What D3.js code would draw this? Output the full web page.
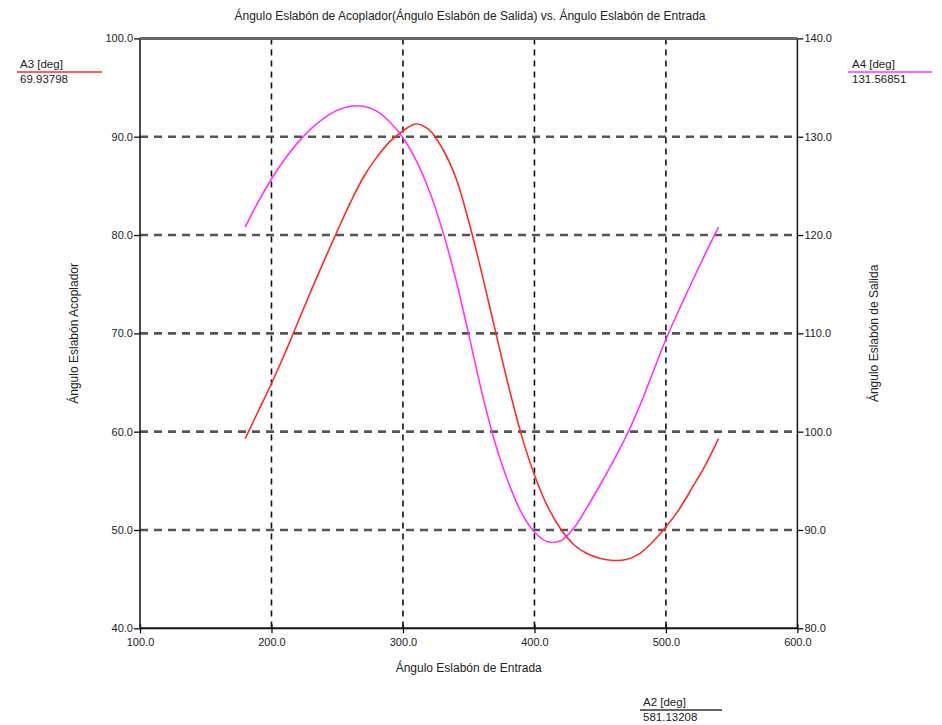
<!DOCTYPE html>
<html><head><meta charset="utf-8">
<script src="https://cdn.jsdelivr.net/npm/d3@7"></script>
<style>
body{margin:0;background:#fff;}
svg text{font-family:"Liberation Sans",Arial,sans-serif;fill:#222;}
</style></head>
<body>
<svg id="c" width="942" height="725"></svg>
<script>
const inputAngle = [180,190,200,210,220,230,240,250,260,270,280,290,300,310,320,330,340,350,360,370,380,390,400,410,420,430,440,450,460,470,480,490,500,510,520,530,540];
const a3Coupler = [59.3,62.1,64.9,67.9,71.1,74.3,77.4,80.4,83.3,85.9,87.9,89.5,90.6,91.3,90.7,88.8,85.9,81.4,76.1,70.4,64.8,59.7,55.6,52.4,50.1,48.5,47.6,47.1,46.9,47.0,47.6,48.8,50.3,52.1,54.3,56.6,59.3];
const a4Output = [120.8,123.4,125.7,127.7,129.4,130.8,131.9,132.7,133.1,133.1,132.6,131.5,129.9,127.6,124.5,120.5,115.6,109.9,104.0,98.9,94.9,91.8,89.8,88.8,88.9,90.2,92.3,94.6,97.0,99.6,102.6,106.0,109.4,112.4,115.3,118.1,120.8];
const xTicks = [100,200,300,400,500,600];
const yLeftTicks = [40,50,60,70,80,90,100];
const yRightTicks = [80,90,100,110,120,130,140];
const titleText = "Ángulo Eslabón de Acoplador(Ángulo Eslabón de Salida) vs. Ángulo Eslabón de Entrada";
const xLabel = "Ángulo Eslabón de Entrada";
const yLeftLabel = "Ángulo Eslabón Acoplador";
const yRightLabel = "Ángulo Eslabón de Salida";
const legendA3 = ["A3 [deg]","69.93798"];
const legendA4 = ["A4 [deg]","131.56851"];
const legendA2 = ["A2 [deg]","581.13208"];

const svg = d3.select("#c");
const L=140, R=797.4, T=38.4, B=628.3;
const x = d3.scaleLinear().domain([100,600]).range([L,R]);
const yL = d3.scaleLinear().domain([40,100]).range([B,T]);
const yR = d3.scaleLinear().domain([80,140]).range([B,T]);

// gridlines
svg.append("g").selectAll("line").data(yLeftTicks.slice(1,-1)).join("line")
  .attr("x1",L).attr("x2",R).attr("y1",d=>yL(d)).attr("y2",d=>yL(d))
  .attr("stroke","#555").attr("stroke-width",2.6).attr("stroke-dasharray","8,6");
svg.append("g").selectAll("line").data(xTicks.slice(1,-1)).join("line")
  .attr("y1",T).attr("y2",B).attr("x1",d=>x(d)).attr("x2",d=>x(d))
  .attr("stroke","#111").attr("stroke-width",1.6).attr("stroke-dasharray","6,5");

// axes
const fmt = d3.format(".1f");
const gB = svg.append("g").attr("transform",`translate(0,${B})`)
  .call(d3.axisBottom(x).tickValues(xTicks).tickFormat(fmt).tickSize(5));
const gL = svg.append("g").attr("transform",`translate(${L},0)`)
  .call(d3.axisLeft(yL).tickValues(yLeftTicks).tickFormat(fmt).tickSize(6));
const gR = svg.append("g").attr("transform",`translate(${R},0)`)
  .call(d3.axisRight(yR).tickValues(yRightTicks).tickFormat(fmt).tickSize(6));
[gB,gL,gR].forEach(g=>{
  g.select(".domain").remove();
  g.selectAll(".tick line").attr("stroke","#111").attr("stroke-width",1.3);
  g.selectAll(".tick text").attr("fill","#222").style("font-size","11px").style("font-family","'Liberation Sans',Arial,sans-serif");
});
gB.selectAll(".tick line").attr("y1",-4);
gB.selectAll(".tick text").attr("dy","0.9em").attr("y",8);
gL.selectAll(".tick text").attr("x",-7);
gR.selectAll(".tick text").attr("x",7);

// frame
svg.append("line").attr("x1",L).attr("x2",L).attr("y1",T).attr("y2",B).attr("stroke","#111").attr("stroke-width",1.5);
svg.append("line").attr("x1",R).attr("x2",R).attr("y1",T).attr("y2",B).attr("stroke","#111").attr("stroke-width",1.5);
svg.append("line").attr("x1",L).attr("x2",R).attr("y1",T).attr("y2",T).attr("stroke","#666").attr("stroke-width",3);
svg.append("line").attr("x1",L).attr("x2",R).attr("y1",B).attr("y2",B).attr("stroke","#111").attr("stroke-width",2);

// curves
const lineL = d3.line().x((d,i)=>x(inputAngle[i])).y(d=>yL(d)).curve(d3.curveCatmullRom);
const lineR = d3.line().x((d,i)=>x(inputAngle[i])).y(d=>yR(d)).curve(d3.curveCatmullRom);
svg.append("path").attr("d",lineR(a4Output)).attr("fill","none").attr("stroke","#ff33ff").attr("stroke-width",1.6);
svg.append("path").attr("d",lineL(a3Coupler)).attr("fill","none").attr("stroke","#ff2a2a").attr("stroke-width",1.6);

// title and labels
svg.append("text").attr("x",470).attr("y",20).attr("text-anchor","middle").style("font-size","12px").text(titleText);
svg.append("text").attr("x",(L+R)/2).attr("y",672).attr("text-anchor","middle").style("font-size","12px").text(xLabel);
svg.append("text").attr("transform",`translate(78,${(T+B)/2}) rotate(-90)`).attr("text-anchor","middle").style("font-size","12px").text(yLeftLabel);
svg.append("text").attr("transform",`translate(878,${(T+B)/2}) rotate(-90)`).attr("text-anchor","middle").style("font-size","12px").text(yRightLabel);

// legends
function legend(x0, lineX1, lineX2, color, texts, yTop){
  svg.append("text").attr("x",x0).attr("y",yTop).style("font-size","11.5px").text(texts[0]);
  svg.append("line").attr("x1",lineX1).attr("x2",lineX2).attr("y1",yTop+4).attr("y2",yTop+4).attr("stroke",color).attr("stroke-width",1.6);
  svg.append("text").attr("x",x0).attr("y",yTop+15).style("font-size","11.5px").text(texts[1]);
}
legend(20,17,102,"#ff2a2a",legendA3,68);
legend(852,848,932,"#ff33ff",legendA4,68);
legend(643,640,722,"#333",legendA2,706);
</script>
</body></html>
